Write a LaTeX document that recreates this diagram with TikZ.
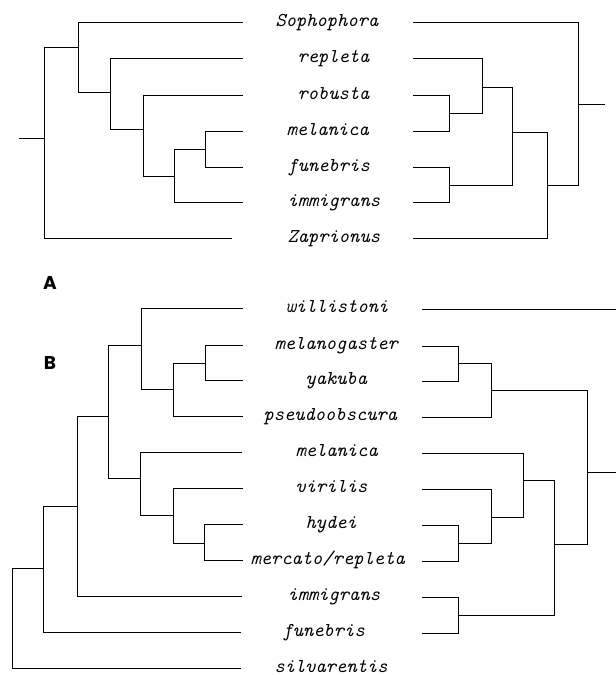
\documentclass[tikz,border=0pt]{standalone}
\usepackage{fontspec}
\newfontfamily\panelfont{Poppins}
\begin{document}
\begin{tikzpicture}[x=1pt,y=-1pt,line width=1pt,line join=miter,
  taxon/.style={font=\ttfamily\itshape\fontsize{19.6}{22}\selectfont,anchor=base west,inner sep=0pt},
  panel/.style={font=\panelfont\bfseries\fontsize{18.5}{20}\selectfont,inner sep=0pt}]
\useasboundingbox (0,0) rectangle (616,675);

% ---------------- Panel A, left tree ----------------
\coordinate (aL0) at (19,138);
\coordinate (aLr) at (44,138);
\coordinate (aL1) at (78,47);
\coordinate (aL2) at (110,92);
\coordinate (aL3) at (143,129);
\coordinate (aL4) at (174,176);
\coordinate (aL5) at (205,149);
\coordinate (aLsop) at (243,22);
\coordinate (aLrep) at (243,58);
\coordinate (aLrob) at (243,95);
\coordinate (aLmel) at (243,131);
\coordinate (aLfun) at (243,167);
\coordinate (aLimm) at (243,202);
\coordinate (aLzap) at (232,238);
\draw (aL0) -- (aLr);
\draw (aLr) |- (aL1);  \draw (aLr) |- (aLzap);
\draw (aL1) |- (aLsop); \draw (aL1) |- (aL2);
\draw (aL2) |- (aLrep); \draw (aL2) |- (aL3);
\draw (aL3) |- (aLrob); \draw (aL3) |- (aL4);
\draw (aL4) |- (aL5);  \draw (aL4) |- (aLimm);
\draw (aL5) |- (aLmel); \draw (aL5) |- (aLfun);

% ---------------- Panel A, right tree ----------------
\coordinate (aR0) at (605,104);
\coordinate (aRr) at (578,104);
\coordinate (aR1) at (547,185);
\coordinate (aR2) at (512,132);
\coordinate (aR3) at (482,87);
\coordinate (aR4) at (449,185);
\coordinate (aR5) at (449,113);
\coordinate (aRsop) at (413,22);
\coordinate (aRrep) at (413,58);
\coordinate (aRrob) at (413,95);
\coordinate (aRmel) at (413,131);
\coordinate (aRfun) at (413,167);
\coordinate (aRimm) at (413,202);
\coordinate (aRzap) at (413,238);
\draw (aR0) -- (aRr);
\draw (aRr) |- (aRsop); \draw (aRr) |- (aR1);
\draw (aR1) |- (aR2);  \draw (aR1) |- (aRzap);
\draw (aR2) |- (aR3);  \draw (aR2) |- (aR4);
\draw (aR3) |- (aRrep); \draw (aR3) |- (aR5);
\draw (aR5) |- (aRrob); \draw (aR5) |- (aRmel);
\draw (aR4) |- (aRfun); \draw (aR4) |- (aRimm);

% ---------------- Panel A labels ----------------
\node[taxon] (tAsop) at (275,26) {Sophophora};
\node[taxon] (tArep) at (297,62) {repleta};
\node[taxon] (tArob) at (297,99) {robusta};
\node[taxon] (tAmel) at (286,135) {melanica};
\node[taxon] (tAfun) at (287,171) {funebris};
\node[taxon] (tAimm) at (287,206) {immigrans};
\node[taxon] (tAzap) at (287,242) {Zaprionus};

\node[panel] (pA) at (50,283) {A};
\node[panel] (pB) at (50,363) {B};

% ---------------- Panel B, left tree ----------------
\coordinate (bLr) at (12,568);
\coordinate (bL1) at (43,568);
\coordinate (bL2) at (77,506);
\coordinate (bL3) at (108,416);
\coordinate (bL4) at (141,345);
\coordinate (bL5) at (140,478);
\coordinate (bL6) at (173,389);
\coordinate (bL7) at (205,363);
\coordinate (bL8) at (173,515);
\coordinate (bL9) at (204,543);
\coordinate (bLwil) at (243,308);
\coordinate (bLmgs) at (243,345);
\coordinate (bLyak) at (243,380);
\coordinate (bLpse) at (243,416);
\coordinate (bLmel) at (242,452);
\coordinate (bLvir) at (243,488);
\coordinate (bLhyd) at (243,524);
\coordinate (bLmer) at (243,560);
\coordinate (bLimm) at (242,596);
\coordinate (bLfun) at (241,632);
\coordinate (bLsil) at (241,668);
\draw (bLr) |- (bL1);  \draw (bLr) |- (bLsil);
\draw (bL1) |- (bL2);  \draw (bL1) |- (bLfun);
\draw (bL2) |- (bL3);  \draw (bL2) |- (bLimm);
\draw (bL3) |- (bL4);  \draw (bL3) |- (bL5);
\draw (bL4) |- (bLwil); \draw (bL4) |- (bL6);
\draw (bL6) |- (bL7);  \draw (bL6) |- (bLpse);
\draw (bL7) |- (bLmgs); \draw (bL7) |- (bLyak);
\draw (bL5) |- (bLmel); \draw (bL5) |- (bL8);
\draw (bL8) |- (bLvir); \draw (bL8) |- (bL9);
\draw (bL9) |- (bLhyd); \draw (bL9) |- (bLmer);

% ---------------- Panel B, right tree ----------------
\coordinate (bRedge) at (616,309);
\coordinate (bR0) at (616,472);
\coordinate (bR1) at (587,472);
\coordinate (bR2) at (491,390);
\coordinate (bR3) at (554,544);
\coordinate (bR4) at (458,363);
\coordinate (bR5) at (523,480);
\coordinate (bR6) at (458,615);
\coordinate (bR7) at (491,517);
\coordinate (bR8) at (458,543);
\coordinate (bRwil) at (422,309);
\coordinate (bRmgs) at (422,346);
\coordinate (bRyak) at (422,381);
\coordinate (bRpse) at (422,417);
\coordinate (bRmel) at (422,453);
\coordinate (bRvir) at (422,489);
\coordinate (bRhyd) at (422,525);
\coordinate (bRmer) at (422,561);
\coordinate (bRimm) at (422,597);
\coordinate (bRfun) at (422,633);
\draw (bRwil) -- (bRedge);
\draw (bR0) -- (bR1);
\draw (bR1) |- (bR2);  \draw (bR1) |- (bR3);
\draw (bR2) |- (bR4);  \draw (bR2) |- (bRpse);
\draw (bR4) |- (bRmgs); \draw (bR4) |- (bRyak);
\draw (bR3) |- (bR5);  \draw (bR3) |- (bR6);
\draw (bR5) |- (bRmel); \draw (bR5) |- (bR7);
\draw (bR7) |- (bRvir); \draw (bR7) |- (bR8);
\draw (bR8) |- (bRhyd); \draw (bR8) |- (bRmer);
\draw (bR6) |- (bRimm); \draw (bR6) |- (bRfun);

% ---------------- Panel B labels ----------------
\node[taxon] (tBwil) at (285,312) {willistoni};
\node[taxon] (tBmgs) at (274,349) {melanogaster};
\node[taxon] (tByak) at (305,384) {yakuba};
\node[taxon] (tBpse) at (263,420) {pseudoobscura};
\node[taxon] (tBmel) at (295,456) {melanica};
\node[taxon] (tBvir) at (295,492) {virilis};
\node[taxon] (tBhyd) at (305,528) {hydei};
\node[taxon] (tBmer) at (250,564) {mercato/repleta};
\node[taxon] (tBimm) at (287,600) {immigrans};
\node[taxon] (tBfun) at (282,636) {funebris};
\node[taxon] (tBsil) at (274,672) {silvarentis};
\end{tikzpicture}
\end{document}
